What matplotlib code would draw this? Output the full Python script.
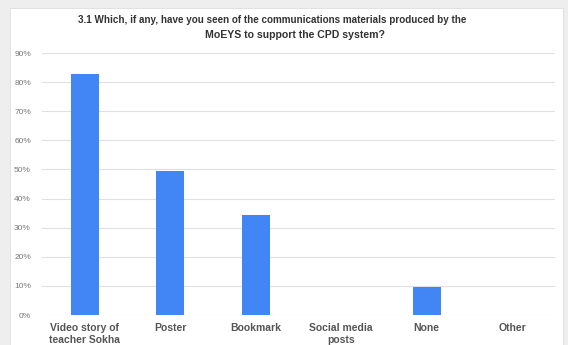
import matplotlib
matplotlib.use("Agg")
import matplotlib.pyplot as plt
from matplotlib.patches import Rectangle
from matplotlib.ticker import PercentFormatter

categories = ["Video story of\nteacher Sokha", "Poster", "Bookmark",
              "Social media\nposts", "None", "Other"]
values = [82.8, 49.5, 34.2, 0.0, 9.7, 0.0]
yticks = [0, 10, 20, 30, 40, 50, 60, 70, 80, 90]
title_1 = "3.1 Which, if any, have you seen of the communications materials produced by the"
title_2 = "MoEYS to support the CPD system?"

plt.rcParams["font.family"] = ["Liberation Sans", "DejaVu Sans"]

fig = plt.figure(figsize=(5.68, 3.45), dpi=100, facecolor="#eeeeee")
# white chart panel inside the grey frame
fig.patches.append(Rectangle((10 / 568, 0), 553 / 568, 337 / 345,
                             transform=fig.transFigure, facecolor="white",
                             edgecolor="#dddddd", linewidth=0.6, zorder=-10))

ax = fig.add_axes([42 / 568, 30 / 345, 513 / 568, 262 / 345])
ax.set_facecolor("none")
x = range(len(categories))
ax.bar(x, values, width=0.33, color="#4285f4", zorder=3)

ax.set_ylim(0, 90)
ax.set_xlim(-0.5, len(categories) - 0.5)
ax.set_yticks(yticks)
ax.yaxis.set_major_formatter(PercentFormatter(decimals=0))
ax.grid(axis="y", color="#e0e0e0", linewidth=0.8, zorder=0)
for s in ax.spines.values():
    s.set_visible(False)
ax.tick_params(axis="y", length=0, labelsize=6, labelcolor="#777777", pad=8)
ax.tick_params(axis="x", length=0, pad=6)
ax.set_xticks(list(x))
ax.set_xticklabels(categories, fontsize=7.5, fontweight="bold", color="#555555",
                   linespacing=1.25, va="top")

fig.text(272 / 568, 1 - 20 / 345, title_1, ha="center", va="center", fontsize=7.1,
         fontweight="bold", color="#333333")
fig.text(295 / 568, 1 - 35 / 345, title_2, ha="center", va="center", fontsize=7.6,
         fontweight="bold", color="#333333")

fig.savefig("out.png", dpi=100, facecolor=fig.get_facecolor())
